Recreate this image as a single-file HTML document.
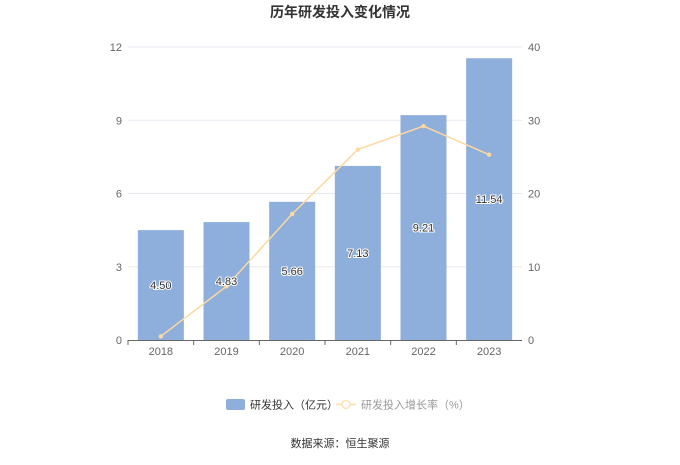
<!DOCTYPE html>
<html><head><meta charset="utf-8"><style>
body{margin:0;background:#fff;font-family:"Liberation Sans","Noto Sans CJK SC",sans-serif}
</style></head><body>
<svg id="c" width="680" height="460" xmlns="http://www.w3.org/2000/svg" style="font-family:'Liberation Sans','Noto Sans CJK SC',sans-serif">
<text x="340" y="17" text-anchor="middle" font-size="14" font-weight="bold" fill="#333">历年研发投入变化情况</text>
<g id="grid"></g><g id="bars"></g><g id="line"></g><g id="axes"></g>
<g>
<rect x="226" y="399" width="19" height="11" rx="2" fill="#8eaedb"/>
<text x="250" y="408.5" font-size="11" fill="#333">研发投入（亿元）</text>
<line x1="336" y1="404.5" x2="356" y2="404.5" stroke="#fde4b8" stroke-width="2"/>
<circle cx="346" cy="404.5" r="4" fill="#fff" stroke="#fde4b8" stroke-width="1.5"/>
<text x="361" y="408.5" font-size="11" fill="#999">研发投入增长率（%）</text>
</g>
<text x="340" y="447" text-anchor="middle" font-size="11" fill="#333">数据来源：恒生聚源</text>
</svg>
<script>
const categories=["2018","2019","2020","2021","2022","2023"];
const investment=[4.50,4.83,5.66,7.13,9.21,11.54];
const growth=[0.5,7.33,17.2,26.0,29.2,25.3];
const leftTicks=[0,3,6,9,12];
const rightTicks=[0,10,20,30,40];
const NS="http://www.w3.org/2000/svg";
const X0=128,X1=522,Y0=340,Y1=47;
const bw=(X1-X0)/categories.length;
const yL=v=>Y0-(v/12)*(Y0-Y1);
const yR=v=>Y0-(v/40)*(Y0-Y1);
const xC=i=>X0+bw*(i+0.5);
function mk(tag,at,parent){const e=document.createElementNS(NS,tag);for(const k in at)e.setAttribute(k,at[k]);document.getElementById(parent).appendChild(e);return e;}
leftTicks.forEach((t,i)=>{
 if(t>0){const g=mk('line',{x1:X0,x2:X1,y1:yL(t),y2:yL(t),stroke:'#e8e8f0'},'grid');
 
 }
 const a=mk('text',{x:X0-6,y:yL(t)+4,'text-anchor':'end','font-size':11,fill:'#666'},'axes');a.textContent=t;
 
 
});
rightTicks.forEach(t=>{
 const a=mk('text',{x:X1+6,y:yR(t)+4,'font-size':11,fill:'#666'},'axes');a.textContent=t;
 
 
});
const ax=mk('line',{x1:X0,x2:X1,y1:Y0+0.5,y2:Y0+0.5,stroke:'#666'},'axes');


categories.forEach((c,i)=>{
 const tk=mk('line',{x1:X0+bw*i,x2:X0+bw*i,y1:Y0,y2:Y0+5,stroke:'#666'},'axes');
 
 
 const t=mk('text',{x:xC(i),y:Y0+15,'text-anchor':'middle','font-size':11,fill:'#666'},'axes');t.textContent=c;
 
 
 const b=mk('rect',{x:xC(i)-23,y:yL(investment[i]),width:46,height:Y0-yL(investment[i]),fill:'#8eaedb'},'bars');
 
 
});
mk('polyline',{points:growth.map((v,i)=>xC(i)+','+yR(v)).join(' '),fill:'none',stroke:'#fdd9a0','stroke-width':1.5},'line');
growth.forEach((v,i)=>{
 const p=mk('circle',{cx:xC(i),cy:yR(v),r:2.2,fill:'#fdd9a0'},'line');
 
 
});
investment.forEach((v,i)=>{
 const t=mk('text',{x:xC(i),y:(yL(v)+Y0)/2+4,'text-anchor':'middle','font-size':11,fill:'#333',stroke:'#fff','stroke-width':2,'paint-order':'stroke'},'line');t.textContent=v.toFixed(2);
 
 
});
</script>
</body></html>
